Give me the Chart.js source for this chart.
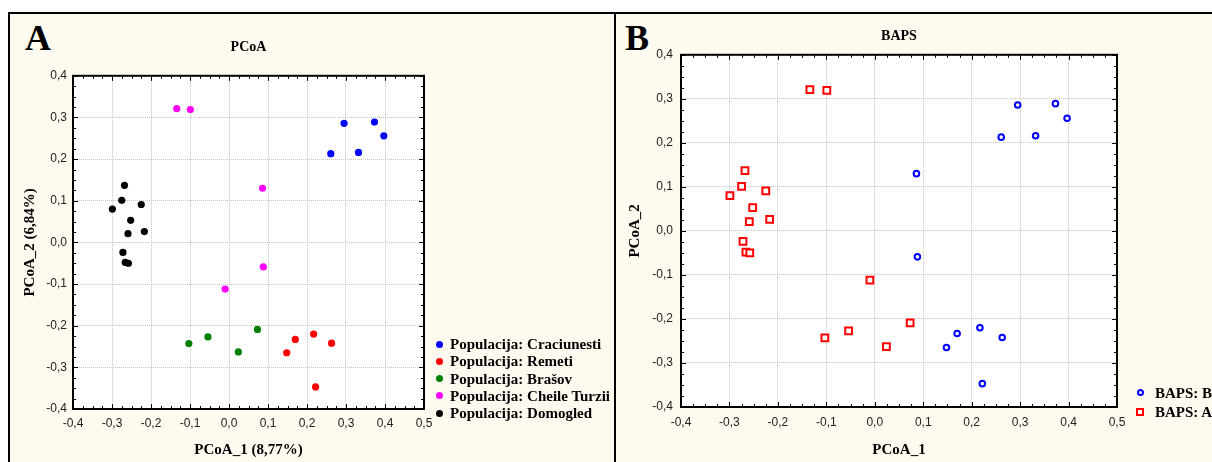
<!DOCTYPE html>
<html>
<head>
<meta charset="utf-8">
<script src="https://cdn.jsdelivr.net/npm/chart.js@4.4.1/dist/chart.umd.min.js"></script>
<style>
  body { margin: 0; background: #fff; width: 1212px; height: 462px; overflow: hidden; position: relative; }
  #frame { position: absolute; left: 8px; top: 12px; width: 1204px; height: 450px; background: #fffaf0;
           border-top: 2px solid #000; border-left: 2px solid #000; box-sizing: border-box; }
  #divider { position: absolute; left: 614px; top: 12px; width: 2px; height: 450px; background: #000; }
  .wrap { position: absolute; }
  .letter { position: absolute; font: bold 36px "Liberation Serif", serif; line-height: 36px; }
  .item { position: absolute; font: bold 15px "Liberation Serif", serif; line-height: 18px; white-space: nowrap; }
  .mk { position: absolute; box-sizing: border-box; }
</style>
</head>
<body>
<div id="frame"></div>
<div id="divider"></div>
<div class="letter" style="left:25px;top:20px">A</div>
<div class="letter" style="left:625px;top:20px">B</div>
<div class="wrap" style="left:9px;top:13px"><canvas id="pcoa" width="605" height="449"></canvas></div>
<div class="wrap" style="left:616px;top:13px"><canvas id="baps" width="596" height="449"></canvas></div>
<div id="legends"></div>
<script>
// PCoA coordinates per population, [PCoA_1, PCoA_2]
const craciunesti = [[0.261, 0.213], [0.295, 0.286], [0.332, 0.216], [0.373, 0.289], [0.397, 0.256]];
const remeti = [[0.148, -0.265], [0.170, -0.233], [0.217, -0.220], [0.263, -0.242], [0.222, -0.347]];
const brasov = [[-0.103, -0.243], [-0.054, -0.227], [0.024, -0.263], [0.073, -0.209]];
const cheileTurzii = [[-0.134, 0.321], [-0.099, 0.319], [0.086, 0.130], [0.088, -0.059], [-0.010, -0.112]];
const domogled = [[-0.268, 0.137], [-0.275, 0.101], [-0.299, 0.080], [-0.225, 0.091], [-0.252, 0.053],
                  [-0.259, 0.021], [-0.217, 0.026], [-0.272, -0.024], [-0.266, -0.048], [-0.258, -0.050]];

// BAPS clusters (same points, grouped differently)
const bapsB = [[0.261, 0.213], [0.295, 0.286], [0.332, 0.216], [0.373, 0.289], [0.397, 0.256],
               [0.148, -0.265], [0.170, -0.233], [0.217, -0.220], [0.263, -0.242], [0.222, -0.347],
               [0.086, 0.130], [0.088, -0.059]];
const bapsA = [[-0.134, 0.321], [-0.099, 0.319], [-0.010, -0.112],
               [-0.103, -0.243], [-0.054, -0.227], [0.024, -0.263], [0.073, -0.209],
               [-0.268, 0.137], [-0.275, 0.101], [-0.299, 0.080], [-0.225, 0.091], [-0.252, 0.053],
               [-0.259, 0.021], [-0.217, 0.026], [-0.272, -0.024], [-0.266, -0.048], [-0.258, -0.050]];

const popNames = ["Populacija: Craciunesti", "Populacija: Remeti", "Populacija: Brašov",
                  "Populacija: Cheile Turzii", "Populacija: Domogled"];
const popData = [craciunesti, remeti, brasov, cheileTurzii, domogled];
const popColors = ["#0000ff", "#ff0000", "#008000", "#ff00ff", "#000000"];

const bapsNames = ["BAPS: B", "BAPS: A"];
const bapsData = [bapsB, bapsA];
const bapsColors = ["#0000ff", "#ff0000"];

const xMin = -0.4, xMax = 0.5, yMin = -0.4, yMax = 0.4;

const fmt = (v) => (Math.abs(v) < 1e-9 ? 0 : v).toFixed(1).replace(".", ",");
const toXY = (arr) => arr.map(p => ({x: p[0], y: p[1]}));

// white plot area, black frame and the small inward ticks
const framePlugin = {
  id: "frame",
  beforeDraw(chart) {
    const a = chart.chartArea, ctx = chart.ctx;
    ctx.save();
    ctx.fillStyle = "#fff";
    ctx.fillRect(a.left, a.top, a.right - a.left, a.bottom - a.top);
    ctx.restore();
  },
  afterDraw(chart) {
    const a = chart.chartArea, ctx = chart.ctx;
    const sx = chart.scales.x, sy = chart.scales.y;
    ctx.save();
    ctx.strokeStyle = "#000";
    ctx.lineWidth = 1;
    ctx.beginPath();
    for (let i = Math.round(xMin / 0.025); i <= Math.round(xMax / 0.025); i++) {
      const px = Math.round(sx.getPixelForValue(i * 0.025)) + 0.5;
      const len = i % 4 === 0 ? 5 : 3;
      ctx.moveTo(px, a.top); ctx.lineTo(px, a.top + len);
      ctx.moveTo(px, a.bottom); ctx.lineTo(px, a.bottom - len);
    }
    for (let i = Math.round(yMin / 0.025); i <= Math.round(yMax / 0.025); i++) {
      const py = Math.round(sy.getPixelForValue(i * 0.025)) + 0.5;
      const len = i % 4 === 0 ? 5 : 3;
      ctx.moveTo(a.left, py); ctx.lineTo(a.left + len, py);
      ctx.moveTo(a.right, py); ctx.lineTo(a.right - len, py);
    }
    ctx.stroke();
    ctx.lineWidth = 2;
    ctx.strokeRect(a.left, a.top, a.right - a.left, a.bottom - a.top);
    ctx.restore();
  }
};

function makeOptions(cfg) {
  const tickFont = {family: "Liberation Sans", size: 12};
  const titleFont = {family: "Liberation Serif", size: 15, weight: "bold"};
  const grid = {color: "#c4c4c4", drawTicks: false, lineWidth: 1};
  const border = {display: false, dash: [1, 1]};
  return {
    responsive: false,
    animation: false,
    events: [],
    layout: {padding: {left: 0, top: 0, right: cfg.padRight, bottom: 0}},
    plugins: {
      legend: {display: false},
      tooltip: {enabled: false},
      title: {
        display: true, text: cfg.title, fullSize: false, color: "#000",
        font: {family: "Liberation Serif", size: 14, weight: "bold"},
        padding: {top: cfg.titleTop, bottom: cfg.titleBottom}
      }
    },
    scales: {
      x: {
        type: "linear", min: xMin, max: xMax,
        ticks: {stepSize: 0.1, callback: fmt, font: tickFont, color: "#222", padding: cfg.xTickPad, maxRotation: 0},
        grid: grid, border: border,
        title: {display: true, text: cfg.xTitle, color: "#000", font: titleFont, padding: {top: 3, bottom: 3}},
        afterFit: (s) => { s.height = cfg.xHeight; }
      },
      y: {
        type: "linear", min: yMin, max: yMax,
        ticks: {stepSize: 0.1, callback: fmt, font: tickFont, color: "#222", padding: cfg.yTickPad},
        grid: grid, border: border,
        title: {display: true, text: cfg.yTitle, color: "#000", font: titleFont, padding: {top: cfg.yTitlePad, bottom: 0}},
        afterFit: (s) => { s.width = cfg.yWidth; }
      }
    }
  };
}

new Chart(document.getElementById("pcoa"), {
  type: "scatter",
  data: {
    datasets: popNames.map((name, i) => ({
      label: name, data: toXY(popData[i]),
      pointStyle: "circle", pointRadius: 3.6, pointBorderWidth: 0,
      backgroundColor: popColors[i], borderColor: popColors[i]
    }))
  },
  options: makeOptions({
    title: "PCoA", xTitle: "PCoA_1 (8,77%)", yTitle: "PCoA_2 (6,84%)",
    padRight: 190, titleTop: 26, titleBottom: 20, xHeight: 53, yWidth: 64,
    xTickPad: 7, yTickPad: 6, yTitlePad: 12
  }),
  plugins: [framePlugin]
});

new Chart(document.getElementById("baps"), {
  type: "scatter",
  data: {
    datasets: bapsNames.map((name, i) => ({
      label: name, data: toXY(bapsData[i]),
      pointStyle: i === 0 ? "circle" : "rect",
      pointRadius: i === 0 ? 2.8 : 4.8, pointBorderWidth: 2,
      backgroundColor: "#fff", borderColor: bapsColors[i]
    }))
  },
  options: makeOptions({
    title: "BAPS", xTitle: "PCoA_1", yTitle: "PCoA_2",
    padRight: 95, titleTop: 15, titleBottom: 10, xHeight: 55, yWidth: 65,
    xTickPad: 8, yTickPad: 8, yTitlePad: 10
  }),
  plugins: [framePlugin]
});

// legends
const legends = document.getElementById("legends");
function addItem(text, color, kind, mx, tx, cy) {
  const m = document.createElement("div");
  m.className = "mk";
  if (kind === "dot") {
    m.style.cssText = `left:${mx - 3.5}px;top:${cy - 3.5}px;width:7px;height:7px;border-radius:50%;background:${color}`;
  } else if (kind === "ring") {
    m.style.cssText = `left:${mx - 3.5}px;top:${cy - 3.5}px;width:7px;height:7px;border-radius:50%;border:2px solid ${color}`;
  } else {
    m.style.cssText = `left:${mx - 4}px;top:${cy - 4}px;width:8px;height:8px;border:2px solid ${color};background:#fff`;
  }
  legends.appendChild(m);
  const t = document.createElement("div");
  t.className = "item";
  t.style.left = tx + "px";
  t.style.top = (cy - 9) + "px";
  t.textContent = text;
  legends.appendChild(t);
}
popNames.forEach((n, i) => addItem(n, popColors[i], "dot", 439, 450, 344 + i * 17.3));
bapsNames.forEach((n, i) => addItem(n, bapsColors[i], i === 0 ? "ring" : "square", 1140, 1155, 392.7 + i * 19));
</script>
</body>
</html>
